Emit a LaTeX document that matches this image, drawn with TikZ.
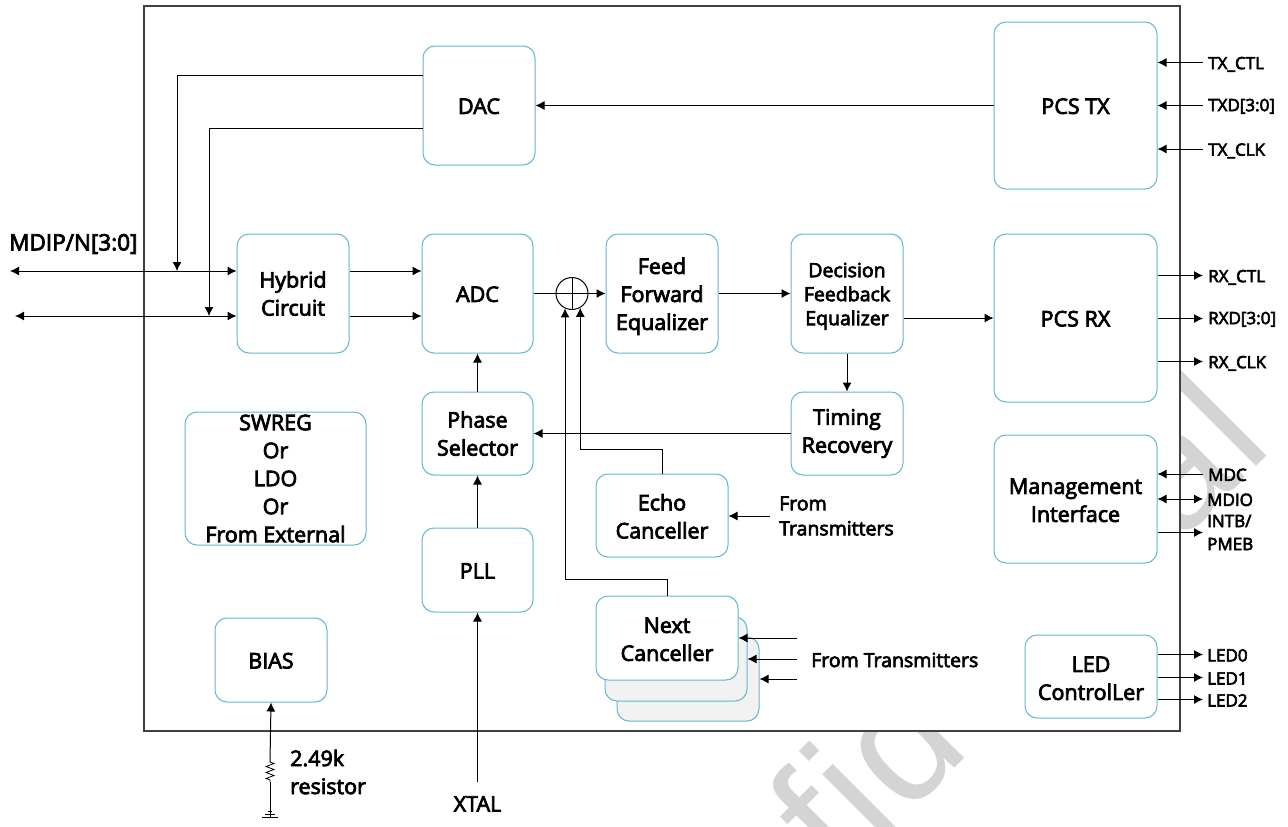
\documentclass[tikz,border=0pt]{standalone}
\usepackage{fontspec}
\setmainfont[FakeBold=3.5]{Open Sans}
\newfontfamily\markfont[LetterSpace=2.6]{Liberation Sans}
\usetikzlibrary{arrows.meta,positioning,decorations.pathmorphing}
\definecolor{blockcol}{HTML}{62B8D2}
\definecolor{stackcol}{HTML}{F2F2F2}
\definecolor{markcol}{HTML}{D4D4D4}
\newcommand{\topgap}[1]{\rule{0pt}{#1}}

\tikzset{
  lowtext/.style={execute at begin node={\rule{0pt}{#1}}},
  block/.style={draw=blockcol,fill=white,rounded corners=12pt,align=center,inner sep=0pt,
    minimum width=112pt,minimum height=84pt,line width=1pt,font=\fontsize{21.5}{28}\selectfont,lowtext=17pt},
  stackblock/.style={block,fill=stackcol,minimum width=142pt},
  biglabel/.style={align=left,inner sep=0pt,font=\fontsize{21.5}{28}\selectfont},
  pinlabel/.style={anchor=west,align=left,inner ysep=0pt,inner xsep=5pt,font=\fontsize{17}{23}\selectfont,lowtext=14pt},
  wire/.style={->,line width=1pt}
}

\begin{document}
\begin{tikzpicture}[x=1pt,y=-1pt,on grid,>={Latex[length=9pt,width=9pt]}]
   \useasboundingbox (0,0) rectangle (1288,827);
   % watermark, only its part outside the chip shows
   \node[rotate=45,anchor=base east,inner sep=0pt,text=markcol,font=\markfont\fontsize{168}{168}\selectfont] (stamp) at (1275.5,447.5) {Confidential};
   \node[draw=black!75,fill=white,line width=1.2pt,minimum width=1036pt,minimum height=725pt,inner sep=0pt] (chip) at (662,368.5) {};

   % main row
   \node[block,minimum height=119pt] (hybrid) at (293,293.5) {Hybrid\\Circuit};
   \node[block,minimum height=119pt,minimum width=111pt] (adc) [right=184.5pt of hybrid] {ADC};
   \node[block,minimum height=119pt] (ffe) [right=184.5pt of adc] {\topgap{22pt}Feed\\Forward\\Equalizer};
   \node[block,minimum height=119pt,font=\fontsize{19.5}{24}\selectfont] (dfe) [right=185pt of ffe] {\topgap{20pt}Decision\\Feedback\\Equalizer};
   \node[block,minimum width=163pt,minimum height=168pt] (pcsrx) at (1075.5,318) {PCS RX};
   \node[block,minimum width=163pt,minimum height=167pt] (pcstx) at (1075.5,105.5) {PCS TX};
   \node[block,minimum height=119pt] (dac) at (479,105.5) {DAC};

   % lower blocks
   \node[block,minimum width=111pt,minimum height=83pt] (phase) [below=140pt of adc] {Phase\\Selector};
   \node[block,minimum width=111pt] (pll) [below=136.5pt of phase] {PLL};
   \node[block,minimum height=83pt] (timing) [below=140pt of dfe] {Timing\\Recovery};
   \node[block,minimum width=132pt,minimum height=83pt] (echo) at (662,515.5) {\topgap{18pt}Echo\\Canceller};
   \node[stackblock] (nextc) at (688,679) {};
   \node[stackblock] (nextb) at (676,659) {};
   \node[stackblock,fill=white] (next) at (667,638) {\topgap{18pt}Next\\Canceller};
   \node[block,minimum width=181pt,minimum height=133pt] (swreg) at (275.5,478.5) {SWREG\\Or\\LDO\\Or\\From External};
   \node[block] (bias) at (271,660) {BIAS};
   \node[block,minimum width=163pt,minimum height=128pt] (mgmt) at (1075.5,499) {\topgap{18pt}Management\\Interface};
   \node[block,minimum width=132pt,minimum height=83pt] (led) at (1091,676.5) {\topgap{19pt}LED\\ControlLer};
   \node[draw,circle,minimum size=32pt,inner sep=0pt,line width=1pt] (sum) at (572,293.5) {};

   % outside labels
   \node[biglabel,anchor=west,font=\fontsize{22.5}{28}\selectfont] (mdip) at (9,244) {MDIP/N[3:0]};
   \node[biglabel,anchor=north,inner ysep=14pt] (xtal) at (477.5,782) {XTAL};
   \node[biglabel,anchor=west] (rlabel) at (290,772) {2.49k\\resistor};
   \node[pinlabel,font=\fontsize{19.5}{25}\selectfont,inner xsep=9pt] (echoin) at (770,516) {From\\Transmitters};
   \node[pinlabel,font=\fontsize{19.5}{25}\selectfont,inner xsep=0pt] (nextin) at (811,660) {From Transmitters};
   \node[pinlabel,lowtext=16pt] (txctl) at (1203,62.5) {TX\_CTL};
   \node[pinlabel] (txd) at (1203,105.5) {TXD[3:0]};
   \node[pinlabel,lowtext=16pt] (txclk) at (1203,149) {TX\_CLK};
   \node[pinlabel,lowtext=16pt] (rxctl) at (1203,275.5) {RX\_CTL};
   \node[pinlabel] (rxd) at (1203,318.5) {RXD[3:0]};
   \node[pinlabel,lowtext=16pt] (rxclk) at (1203,361.5) {RX\_CLK};
   \node[pinlabel] (mdc) at (1203,474) {MDC};
   \node[pinlabel,inner xsep=4pt] (mdio) at (1203,499) {MDIO};
   \node[pinlabel,inner xsep=4pt] (intb) at (1203,532.5) {INTB/\\PMEB};
   \node[pinlabel,inner xsep=4pt] (led0) at (1203,654.5) {LED0};
   \node[pinlabel,inner xsep=4pt] (led1) at (1203,677.5) {LED1};
   \node[pinlabel,inner xsep=4pt] (led2) at (1203,699.5) {LED2};

   % free ends and junctions
   \coordinate (mdip1) at (10,271);
   \coordinate (mdip2) at (15,316);
   \coordinate (hyb1) at (hybrid.west |- mdip1);
   \coordinate (hyb2) at (hybrid.west |- mdip2);
   \coordinate (tap1) at (177,271);
   \coordinate (tap2) at (209,316);
   \coordinate (from1) at (797,638);
   \coordinate (from2) at (797,659);
   \coordinate (from3) at (797,679);
   \coordinate (res1) at (270,762);
   \coordinate (res2) at (270,782);
   \coordinate (gnd) at (270,817);

   \draw[wire,<->] (mdip1) -- (hyb1);
   \draw[wire,<->] (mdip2) -- (hyb2);
   \draw[wire] ([yshift=30.5pt]dac.west) -| (tap1);
   \draw[wire] ([yshift=-23pt]dac.west) -| (tap2);
   \draw[wire] (hyb1 -| hybrid.east) -- (hyb1 -| adc.west);
   \draw[wire] (hyb2 -| hybrid.east) -- (hyb2 -| adc.west);
   \draw[line width=1pt] (adc) -- (sum.east);
   \draw[line width=1pt] (sum.north) -- (sum.south);
    \path[wire]
    (sum) edge (ffe)
    (ffe) edge (dfe)
    (dfe.east |- pcsrx.west) edge (pcsrx.west)
    (pcstx) edge (dac)
    (dfe) edge (timing)
    (timing) edge (phase)
    (phase) edge (adc)
    (pll) edge (phase)
    (xtal) edge (pll);
   \draw[wire] (echo.north) -- ++(0,-24) -| (sum.-60);
   \draw[wire] (next.north) -- ++(0,-16) -| (sum.-115);
   \draw[wire] (echoin.west) -- (echo.east |- echoin.west);
   \draw[wire] (from1) -- (from1 -| next.east);
   \draw[wire] (from2) -- (from2 -| nextb.east);
   \draw[wire] (from3) -- (from3 -| nextc.east);

   % pins on the right
   \draw[wire] (txctl.west) -- (txctl.west -| pcstx.east);
   \draw[wire] (txd.west) -- (txd.west -| pcstx.east);
   \draw[wire] (txclk.west) -- (txclk.west -| pcstx.east);
   \draw[wire] (rxctl.west -| pcsrx.east) -- (rxctl.west);
   \draw[wire] (rxd.west -| pcsrx.east) -- (rxd.west);
   \draw[wire] (rxclk.west -| pcsrx.east) -- (rxclk.west);
   \draw[wire] (mdc.west) -- (mdc.west -| mgmt.east);
   \draw[wire,<->] (mdio.west) -- (mdio.west -| mgmt.east);
   \draw[wire] (intb.west -| mgmt.east) -- (intb.west);
   \draw[wire] (led0.west -| led.east) -- (led0.west);
   \draw[wire] (led1.west -| led.east) -- (led1.west);
   \draw[wire] (led2.west -| led.east) -- (led2.west);

   % resistor to ground
   \draw[wire] (res1) -- (bias.south);
   \draw[line width=.8pt,decorate,decoration={zigzag,segment length=6pt,amplitude=4pt}] (res1) -- (res2);
   \draw[line width=.8pt] (res2) -- (gnd);
   \draw[line width=.8pt] ([xshift=-8pt]gnd) -- ([xshift=8pt]gnd);
   \draw[line width=.8pt] ([xshift=-5pt,yshift=3pt]gnd) -- ([xshift=5pt,yshift=3pt]gnd);
   \draw[line width=.8pt] ([xshift=-2pt,yshift=6pt]gnd) -- ([xshift=2pt,yshift=6pt]gnd);
\end{tikzpicture}
\end{document}
